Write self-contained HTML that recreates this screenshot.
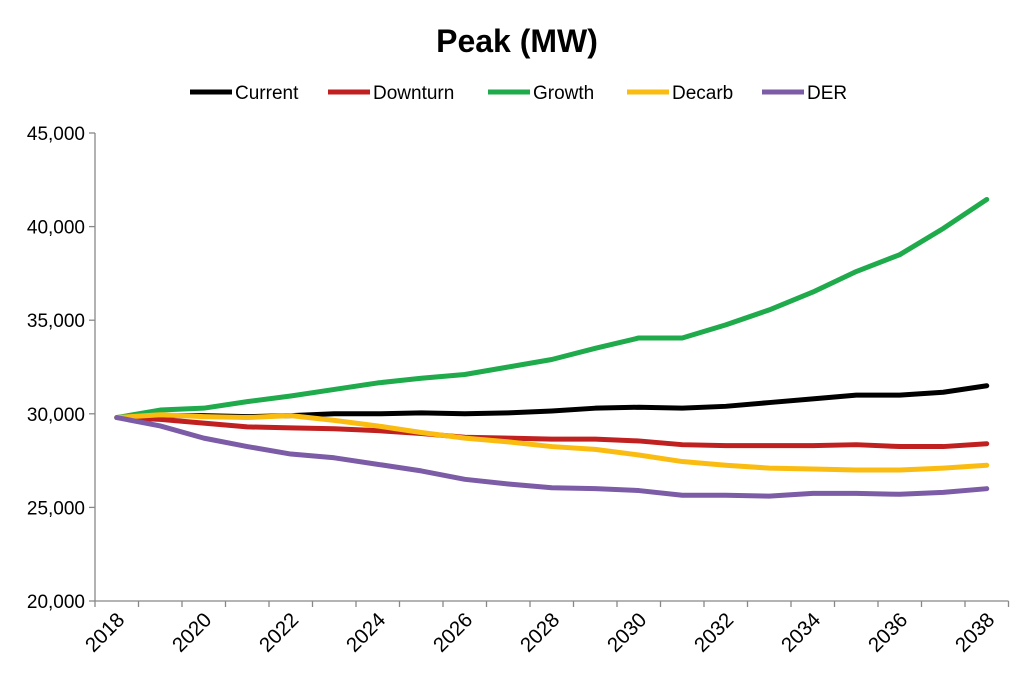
<!DOCTYPE html>
<html><head><meta charset="utf-8"><style>
body{margin:0;background:#fff;}
svg{display:block;font-family:"Liberation Sans",Arial,sans-serif;}
</style></head><body>
<svg id="chart" width="1034" height="677">
<text x="517" y="52" text-anchor="middle" font-size="32" font-weight="bold">Peak (MW)</text>
<g id="legend"></g>
<g id="axes"></g>
<g id="series"></g>
</svg>
<script>
const years=[2018,2019,2020,2021,2022,2023,2024,2025,2026,2027,2028,2029,2030,2031,2032,2033,2034,2035,2036,2037,2038];
const yTicks=[20000,25000,30000,35000,40000,45000];
const seriesNames=["Current","Downturn","Growth","Decarb","DER"];
const seriesColors=["#000000","#c0201f","#1faa4b","#fbbc11","#7c5ca6"];
const current=[29800,29900,29900,29850,29900,30000,30000,30050,30000,30050,30150,30300,30350,30300,30400,30600,30800,31000,31000,31150,31500];
const downturn=[29800,29700,29500,29300,29250,29200,29100,28950,28750,28700,28650,28650,28550,28350,28300,28300,28300,28350,28250,28250,28400];
const growth=[29800,30200,30300,30650,30950,31300,31650,31900,32100,32500,32900,33500,34050,34050,34750,35550,36500,37600,38500,39900,41450];
const decarb=[29800,29950,29850,29800,29900,29650,29350,29000,28700,28500,28250,28100,27800,27450,27250,27100,27050,27000,27000,27100,27250];
const der=[29800,29350,28700,28250,27850,27650,27300,26950,26500,26250,26050,26000,25900,25650,25650,25600,25750,25750,25700,25800,26000];
const allSeries=[current,downturn,growth,decarb,der];

const NS="http://www.w3.org/2000/svg";
const L=95,R=1008.5,T=133,B=601,yMin=20000,yMax=45000;
const step=(R-L)/years.length;
const xPos=i=>L+step*(i+0.5);
const yPos=v=>B-(v-yMin)/(yMax-yMin)*(B-T);
function mk(tag,attrs,parent){const e=document.createElementNS(NS,tag);for(const k in attrs)e.setAttribute(k,attrs[k]);parent.appendChild(e);return e;}
const axes=document.getElementById('axes');
const ax=mk('line',{x1:L,y1:T,x2:L,y2:B,stroke:'#888','stroke-width':1.3},axes);


const bx=mk('line',{x1:L,y1:B,x2:R,y2:B,stroke:'#888','stroke-width':1.3},axes);


yTicks.forEach(v=>{
  const y=yPos(v);
  mk('line',{x1:L-6,y1:y,x2:L,y2:y,stroke:'#888','stroke-width':1.3},axes);
  const t=mk('text',{x:L-10,y:y+7,'text-anchor':'end','font-size':19},axes);
  t.textContent=v.toLocaleString('en-US');
  
  
});
for(let k=0;k<=years.length;k++){
  const x=L+step*k;
  mk('line',{x1:x,y1:B,x2:x,y2:B+6,stroke:'#888','stroke-width':1.3},axes);
}
years.forEach((yr,i)=>{
  if(yr%2)return;
  const x=xPos(i)+9,y=B+20;
  const t=mk('text',{x:x,y:y,'text-anchor':'end','font-size':20.5,transform:`rotate(-45 ${x} ${y})`},axes);
  t.textContent=yr;
  
  
});
const sg=document.getElementById('series');
allSeries.forEach((s,si)=>{
  const p=mk('polyline',{points:s.map((v,i)=>xPos(i)+','+yPos(v)).join(' '),fill:'none',stroke:seriesColors[si],'stroke-width':5,'stroke-linejoin':'round','stroke-linecap':'round'},sg);
  
  
});
const lg=document.getElementById('legend');
const lx=[190,328,488,627,762];
seriesNames.forEach((n,i)=>{
  const g=mk('g',{},lg);
  
  
  mk('line',{x1:lx[i],y1:92,x2:lx[i]+42,y2:92,stroke:seriesColors[i],'stroke-width':5},g);
  const t=mk('text',{x:lx[i]+45,y:99,'font-size':19},g);
  t.textContent=n;
});
</script>
</body></html>
